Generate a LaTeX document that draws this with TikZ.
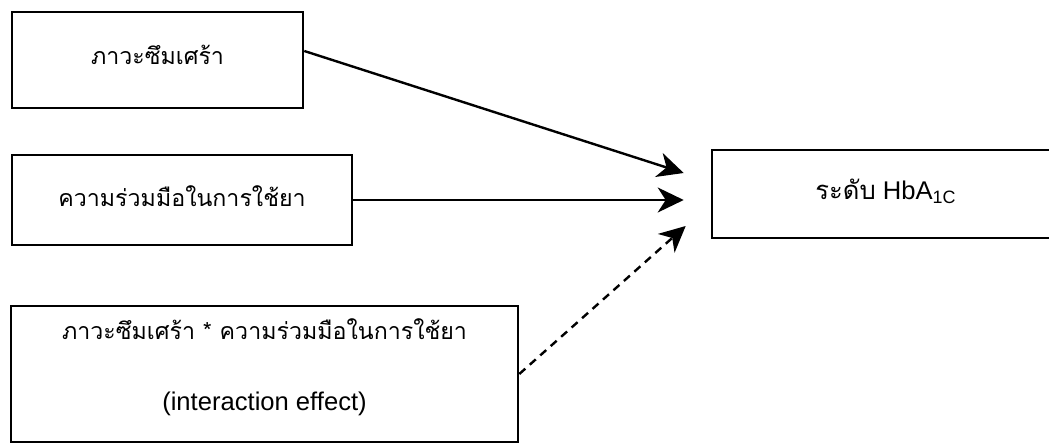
\documentclass[tikz,border=0pt]{standalone}
\usepackage{fontspec}
\setmainfont{Liberation Sans}
\newfontfamily\thaifont[Script=Thai]{Loma}
\usepackage{tikz}
\usetikzlibrary{calc}
\usetikzlibrary{arrows.meta}
\tikzset{
    box/.style={draw, rectangle, line width=1.3pt, inner sep=0pt},
    caption/.style={font=\fontsize{11.6}{14}\selectfont\thaifont},
    latin/.style={font=\fontsize{12.8}{15}\selectfont},
    effect/.style={-{Stealth[length=13pt, width=12.5pt, inset=4pt]}, line width=1.2pt},
    moderated/.style={effect, dash pattern=on 4pt off 3pt},
}
\begin{document}
\begin{tikzpicture}[x=0.5pt, y=-0.5pt]
    \useasboundingbox (0,0) rectangle (1049,443);

    \node[box, minimum width=145.5pt, minimum height=48pt,
          label={[caption, yshift=2.5pt]center:ภาวะซึมเศร้า}] (depress) at (157.5,60) {};
    \node[box, minimum width=170pt, minimum height=45pt,
          label={[caption, yshift=2pt]center:ความร่วมมือในการใช้ยา}] (adhere) at (182,200) {};
    \node[box, minimum width=253.5pt, minimum height=68pt,
          label={[caption, yshift=22.5pt]center:ภาวะซึมเศร้า * ความร่วมมือในการใช้ยา},
          label={[latin, yshift=-15pt]center:(interaction effect)}] (interact) at (264.5,374) {};
    \node[box, minimum width=174pt, minimum height=44pt,
          label={[latin, yshift=1.5pt]center:{{\thaifont ระดับ} HbA\textsubscript{1C}}}] (hba) at (886,194) {};

    % paths into the outcome
    \draw[effect] ([yshift=4.5pt]depress.east) -- ([xshift=-13.5pt, yshift=10.5pt]hba.west);
    \draw[effect] (adhere.east) -- ($(hba.west |- adhere.east)+(-13.5pt,0)$);
    \draw[moderated] (interact.east) -- ([xshift=-12.5pt, yshift=-16pt]hba.west);
\end{tikzpicture}
\end{document}
